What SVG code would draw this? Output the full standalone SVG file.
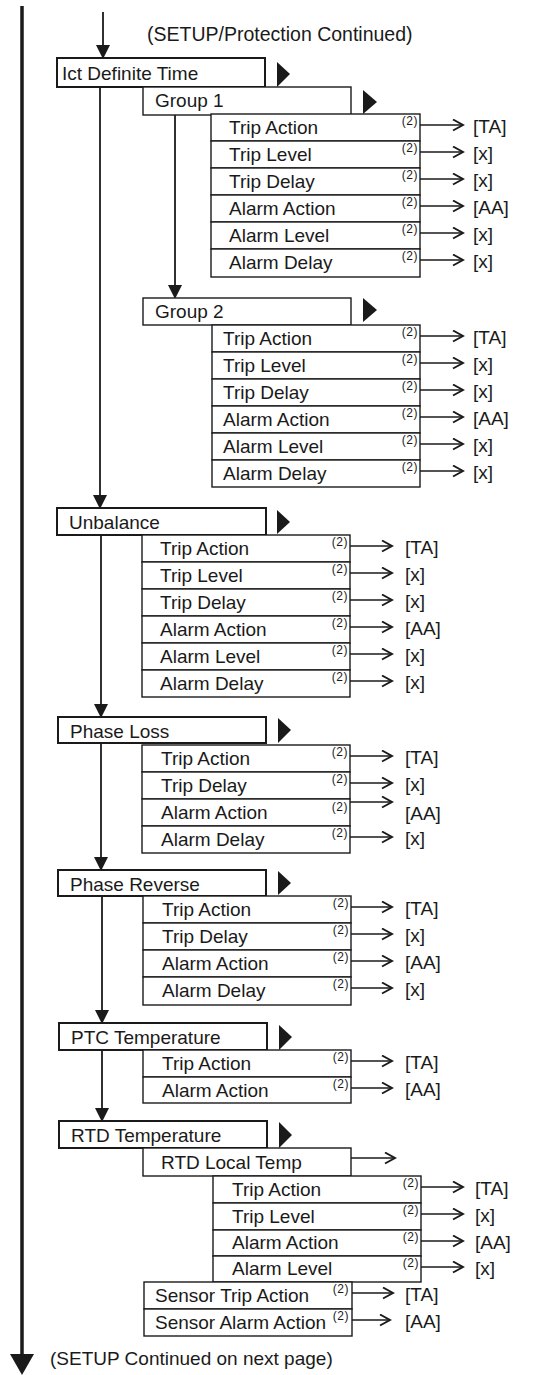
<svg xmlns="http://www.w3.org/2000/svg" width="551" height="1375" viewBox="0 0 551 1375">
<style>
text{font-family:"Liberation Sans",Arial,sans-serif;fill:#1a1a1a}
.t{font-size:19px}
.s{font-size:12px;letter-spacing:0.5px}
.box{fill:#fff;stroke:#1a1a1a;stroke-width:1.4}
.top{fill:#fff;stroke:#1a1a1a;stroke-width:2}
.tri{fill:#1a1a1a}
.v{stroke:#1a1a1a;stroke-width:1.8;fill:none}
.h{stroke:#1a1a1a;stroke-width:1.3;fill:none}
</style>
<defs>
<marker id="fa" markerUnits="userSpaceOnUse" markerWidth="14" markerHeight="16" refX="12" refY="7" orient="auto">
<path d="M0,0 L14,7 L0,14 Z" fill="#1a1a1a"/>
</marker>
<marker id="oa" markerUnits="userSpaceOnUse" markerWidth="14" markerHeight="14" refX="11" refY="6" orient="auto">
<path d="M1,0.5 L11,6 L1,11.5" fill="none" stroke="#1a1a1a" stroke-width="1.9"/>
</marker>
</defs>

<g id="connectors">
<line x1="22" y1="6" x2="22" y2="1356" stroke="#1a1a1a" stroke-width="3.5"/>
<path d="M10,1354 L34,1354 L22,1375 Z" class="tri"/>
<line class="v" x1="103" y1="12" x2="103" y2="57" marker-end="url(#fa)"/>
<line class="v" x1="100" y1="87" x2="100" y2="507" marker-end="url(#fa)"/>
<line class="v" x1="175" y1="115" x2="175" y2="297" marker-end="url(#fa)"/>
<line class="v" x1="101" y1="535" x2="101" y2="716" marker-end="url(#fa)"/>
<line class="v" x1="101" y1="743" x2="101" y2="869" marker-end="url(#fa)"/>
<line class="v" x1="102" y1="896" x2="102" y2="1022" stroke-width="2.4" marker-end="url(#fa)"/>
<line class="v" x1="102" y1="1050" x2="102" y2="1120" marker-end="url(#fa)"/>
</g>

<text class="t" x="147" y="41" style="font-size:19.5px">(SETUP/Protection Continued)</text>

<g id="ict">
<rect class="top" x="57" y="58" width="208" height="29"/>
<text class="t" x="62" y="80">Ict Definite Time</text>
<path class="tri" d="M277,62 L277,87 L290,74 Z"/>
</g>

<g id="group1">
<rect class="box" x="143" y="87" width="208" height="28"/>
<text class="t" x="155" y="107">Group 1</text>
<path class="tri" d="M363,90 L363,114 L377,102 Z"/>
</g>

<g id="group1-items">
<rect class="box" x="211" y="114" width="209" height="27"/>
<rect class="box" x="211" y="141" width="209" height="27"/>
<rect class="box" x="211" y="168" width="209" height="27"/>
<rect class="box" x="211" y="195" width="209" height="27"/>
<rect class="box" x="211" y="222" width="209" height="27"/>
<rect class="box" x="211" y="249" width="209" height="28"/>
<text class="t" x="229" y="134">Trip Action</text>
<text class="t" x="229" y="161">Trip Level</text>
<text class="t" x="229" y="188">Trip Delay</text>
<text class="t" x="229" y="215">Alarm Action</text>
<text class="t" x="229" y="242">Alarm Level</text>
<text class="t" x="229" y="269">Alarm Delay</text>
<g text-anchor="end">
<text class="s" x="418" y="125">(2)</text>
<text class="s" x="418" y="152">(2)</text>
<text class="s" x="418" y="179">(2)</text>
<text class="s" x="418" y="206">(2)</text>
<text class="s" x="418" y="233">(2)</text>
<text class="s" x="418" y="260">(2)</text>
</g>
<g class="h" marker-end="url(#oa)">
<line x1="420" y1="125" x2="463" y2="125"/>
<line x1="420" y1="152" x2="463" y2="152"/>
<line x1="420" y1="179" x2="463" y2="179"/>
<line x1="420" y1="206" x2="463" y2="206"/>
<line x1="420" y1="233" x2="463" y2="233"/>
<line x1="420" y1="260" x2="463" y2="260"/>
</g>
<text class="t" x="473" y="133">[TA]</text>
<text class="t" x="473" y="160">[x]</text>
<text class="t" x="473" y="187">[x]</text>
<text class="t" x="473" y="214">[AA]</text>
<text class="t" x="473" y="241">[x]</text>
<text class="t" x="473" y="268">[x]</text>
</g>

<g id="group2">
<rect class="box" x="143" y="298" width="208" height="27"/>
<text class="t" x="155" y="318">Group 2</text>
<path class="tri" d="M363,298 L363,322 L377,310 Z"/>
</g>

<g id="group2-items">
<rect class="box" x="212" y="325" width="208" height="27"/>
<rect class="box" x="212" y="352" width="208" height="27"/>
<rect class="box" x="212" y="379" width="208" height="27"/>
<rect class="box" x="212" y="406" width="208" height="27"/>
<rect class="box" x="212" y="433" width="208" height="27"/>
<rect class="box" x="212" y="460" width="208" height="27"/>
<text class="t" x="223" y="345">Trip Action</text>
<text class="t" x="223" y="372">Trip Level</text>
<text class="t" x="223" y="399">Trip Delay</text>
<text class="t" x="223" y="426">Alarm Action</text>
<text class="t" x="223" y="453">Alarm Level</text>
<text class="t" x="223" y="480">Alarm Delay</text>
<g text-anchor="end">
<text class="s" x="418" y="336">(2)</text>
<text class="s" x="418" y="363">(2)</text>
<text class="s" x="418" y="390">(2)</text>
<text class="s" x="418" y="417">(2)</text>
<text class="s" x="418" y="444">(2)</text>
<text class="s" x="418" y="471">(2)</text>
</g>
<g class="h" marker-end="url(#oa)">
<line x1="420" y1="336" x2="463" y2="336"/>
<line x1="420" y1="363" x2="463" y2="363"/>
<line x1="420" y1="390" x2="463" y2="390"/>
<line x1="420" y1="417" x2="463" y2="417"/>
<line x1="420" y1="444" x2="463" y2="444"/>
<line x1="420" y1="471" x2="463" y2="471"/>
</g>
<text class="t" x="473" y="344">[TA]</text>
<text class="t" x="473" y="371">[x]</text>
<text class="t" x="473" y="398">[x]</text>
<text class="t" x="473" y="425">[AA]</text>
<text class="t" x="473" y="452">[x]</text>
<text class="t" x="473" y="479">[x]</text>
</g>

<g id="unbalance">
<rect class="top" x="57" y="508" width="209" height="27"/>
<text class="t" x="69" y="529">Unbalance</text>
<path class="tri" d="M277,510 L277,534 L290,522 Z"/>
</g>

<g id="unbalance-items">
<rect class="box" x="142" y="535" width="208" height="27"/>
<rect class="box" x="142" y="562" width="208" height="27"/>
<rect class="box" x="142" y="589" width="208" height="27"/>
<rect class="box" x="142" y="616" width="208" height="27"/>
<rect class="box" x="142" y="643" width="208" height="27"/>
<rect class="box" x="142" y="670" width="208" height="27"/>
<text class="t" x="160" y="555">Trip Action</text>
<text class="t" x="160" y="582">Trip Level</text>
<text class="t" x="160" y="609">Trip Delay</text>
<text class="t" x="160" y="636">Alarm Action</text>
<text class="t" x="160" y="663">Alarm Level</text>
<text class="t" x="160" y="690">Alarm Delay</text>
<g text-anchor="end">
<text class="s" x="348" y="546">(2)</text>
<text class="s" x="348" y="573">(2)</text>
<text class="s" x="348" y="600">(2)</text>
<text class="s" x="348" y="627">(2)</text>
<text class="s" x="348" y="654">(2)</text>
<text class="s" x="348" y="681">(2)</text>
</g>
<g class="h" marker-end="url(#oa)">
<line x1="350" y1="546" x2="392" y2="546"/>
<line x1="350" y1="573" x2="392" y2="573"/>
<line x1="350" y1="600" x2="392" y2="600"/>
<line x1="350" y1="627" x2="392" y2="627"/>
<line x1="350" y1="654" x2="392" y2="654"/>
<line x1="350" y1="681" x2="392" y2="681"/>
</g>
<text class="t" x="405" y="554">[TA]</text>
<text class="t" x="405" y="581">[x]</text>
<text class="t" x="405" y="608">[x]</text>
<text class="t" x="405" y="635">[AA]</text>
<text class="t" x="405" y="662">[x]</text>
<text class="t" x="405" y="689">[x]</text>
</g>

<g id="phase-loss">
<rect class="top" x="58" y="717" width="208" height="26"/>
<text class="t" x="70" y="738">Phase Loss</text>
<path class="tri" d="M278,718 L278,743 L291,730 Z"/>
</g>

<g id="phase-loss-items">
<rect class="box" x="142" y="745" width="208" height="27"/>
<rect class="box" x="142" y="772" width="208" height="27"/>
<rect class="box" x="142" y="799" width="208" height="27"/>
<rect class="box" x="142" y="826" width="208" height="27"/>
<text class="t" x="161" y="765">Trip Action</text>
<text class="t" x="161" y="792">Trip Delay</text>
<text class="t" x="161" y="819">Alarm Action</text>
<text class="t" x="161" y="846">Alarm Delay</text>
<g text-anchor="end">
<text class="s" x="348" y="756">(2)</text>
<text class="s" x="348" y="783">(2)</text>
<text class="s" x="348" y="811">(2)</text>
<text class="s" x="348" y="837">(2)</text>
</g>
<g class="h" marker-end="url(#oa)">
<line x1="350" y1="756" x2="392" y2="756"/>
<line x1="350" y1="783" x2="392" y2="783"/>
<line x1="350" y1="802" x2="392" y2="802"/>
<line x1="350" y1="837" x2="392" y2="837"/>
</g>
<text class="t" x="405" y="764">[TA]</text>
<text class="t" x="405" y="791">[x]</text>
<text class="t" x="405" y="820">[AA]</text>
<text class="t" x="405" y="845">[x]</text>
</g>

<g id="phase-reverse">
<rect class="top" x="58" y="870" width="208" height="26"/>
<text class="t" x="70" y="891">Phase Reverse</text>
<path class="tri" d="M278,871 L278,895 L291,883 Z"/>
</g>

<g id="phase-reverse-items">
<rect class="box" x="143" y="896" width="208" height="27"/>
<rect class="box" x="143" y="923" width="208" height="27"/>
<rect class="box" x="143" y="950" width="208" height="27"/>
<rect class="box" x="143" y="977" width="208" height="28"/>
<text class="t" x="162" y="916">Trip Action</text>
<text class="t" x="162" y="943">Trip Delay</text>
<text class="t" x="162" y="970">Alarm Action</text>
<text class="t" x="162" y="997">Alarm Delay</text>
<g text-anchor="end">
<text class="s" x="349" y="907">(2)</text>
<text class="s" x="349" y="934">(2)</text>
<text class="s" x="349" y="961">(2)</text>
<text class="s" x="349" y="988">(2)</text>
</g>
<g class="h" marker-end="url(#oa)">
<line x1="351" y1="907" x2="392" y2="907"/>
<line x1="351" y1="934" x2="392" y2="934"/>
<line x1="351" y1="961" x2="392" y2="961"/>
<line x1="351" y1="988" x2="392" y2="988"/>
</g>
<text class="t" x="405" y="915">[TA]</text>
<text class="t" x="405" y="942">[x]</text>
<text class="t" x="405" y="969">[AA]</text>
<text class="t" x="405" y="996">[x]</text>
</g>

<g id="ptc">
<rect class="top" x="59" y="1023" width="208" height="27"/>
<text class="t" x="71" y="1044">PTC Temperature</text>
<path class="tri" d="M279,1025 L279,1050 L292,1037 Z"/>
</g>

<g id="ptc-items">
<rect class="box" x="143" y="1050" width="208" height="27"/>
<rect class="box" x="143" y="1077" width="208" height="26"/>
<text class="t" x="162" y="1070">Trip Action</text>
<text class="t" x="162" y="1097">Alarm Action</text>
<g text-anchor="end">
<text class="s" x="349" y="1061">(2)</text>
<text class="s" x="349" y="1088">(2)</text>
</g>
<g class="h" marker-end="url(#oa)">
<line x1="351" y1="1061" x2="392" y2="1061"/>
<line x1="351" y1="1088" x2="392" y2="1088"/>
</g>
<text class="t" x="405" y="1069">[TA]</text>
<text class="t" x="405" y="1096">[AA]</text>
</g>

<g id="rtd">
<rect class="top" x="59" y="1121" width="208" height="27"/>
<text class="t" x="71" y="1142">RTD Temperature</text>
<path class="tri" d="M279,1122 L279,1148 L292,1135 Z"/>
</g>

<g id="rtd-local">
<rect class="box" x="143" y="1148" width="208" height="28"/>
<text class="t" x="161" y="1169">RTD Local Temp</text>
<line class="h" x1="351" y1="1158" x2="395" y2="1158" marker-end="url(#oa)"/>
</g>

<g id="rtd-local-items">
<rect class="box" x="213" y="1176" width="208" height="27"/>
<rect class="box" x="213" y="1203" width="208" height="27"/>
<rect class="box" x="213" y="1230" width="208" height="26"/>
<rect class="box" x="213" y="1256" width="208" height="26"/>
<text class="t" x="232" y="1196">Trip Action</text>
<text class="t" x="232" y="1223">Trip Level</text>
<text class="t" x="232" y="1249" fill="#444">Alarm Action</text>
<text class="t" x="232" y="1275">Alarm Level</text>
<g text-anchor="end">
<text class="s" x="419" y="1187">(2)</text>
<text class="s" x="419" y="1214">(2)</text>
<text class="s" x="419" y="1241">(2)</text>
<text class="s" x="419" y="1267">(2)</text>
</g>
<g class="h" marker-end="url(#oa)">
<line x1="421" y1="1187" x2="463" y2="1187"/>
<line x1="421" y1="1214" x2="463" y2="1214"/>
<line x1="421" y1="1241" x2="463" y2="1241"/>
<line x1="421" y1="1267" x2="463" y2="1267"/>
</g>
<text class="t" x="475" y="1195">[TA]</text>
<text class="t" x="475" y="1222">[x]</text>
<text class="t" x="475" y="1249">[AA]</text>
<text class="t" x="475" y="1275">[x]</text>
</g>

<g id="sensor">
<rect class="box" x="144" y="1282" width="208" height="27"/>
<rect class="box" x="144" y="1309" width="208" height="27"/>
<text class="t" x="155" y="1302">Sensor Trip Action</text>
<text class="t" x="155" y="1329">Sensor Alarm Action</text>
<g text-anchor="end">
<text class="s" x="349" y="1293">(2)</text>
<text class="s" x="349" y="1320">(2)</text>
</g>
<g class="h" marker-end="url(#oa)">
<line x1="352" y1="1293" x2="393" y2="1293"/>
<line x1="352" y1="1320" x2="390" y2="1320"/>
</g>
<text class="t" x="405" y="1301">[TA]</text>
<text class="t" x="405" y="1328">[AA]</text>
</g>

<text class="t" x="50" y="1365">(SETUP Continued on next page)</text>
</svg>
